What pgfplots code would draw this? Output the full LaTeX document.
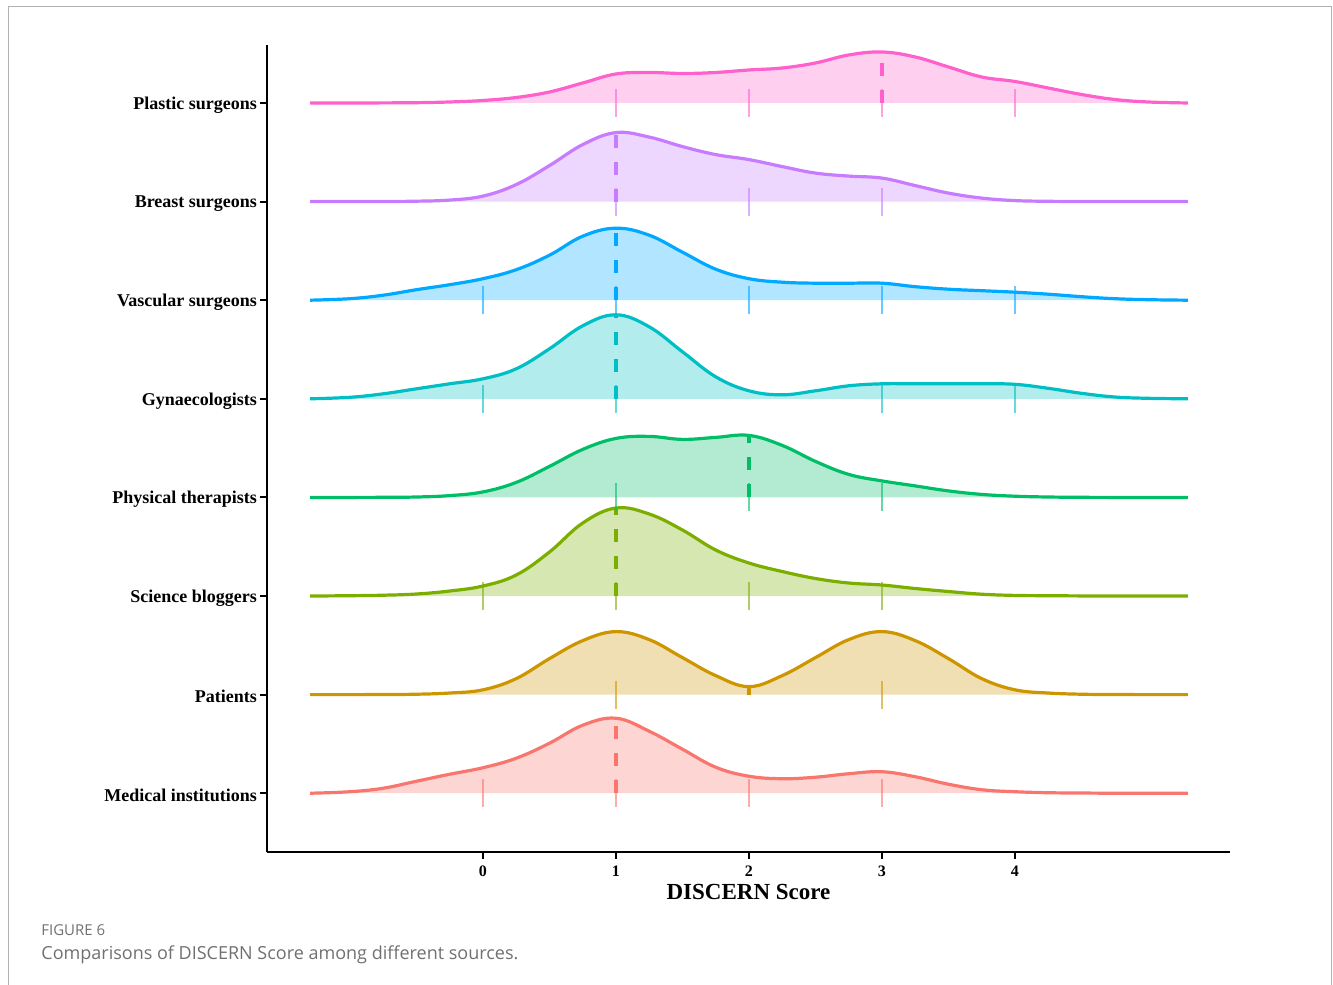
\documentclass[border=0pt]{standalone}
\usepackage{fontspec}
\setmainfont{Liberation Serif}
\newfontfamily\capfont{Open Sans}
\usepackage{pgfplots}
\usepackage{pgfplotstable}
\pgfplotsset{compat=1.18}

\definecolor{cpl}{HTML}{FF61CC}
\definecolor{cbr}{HTML}{C77CFF}
\definecolor{cva}{HTML}{00A9FF}
\definecolor{cgy}{HTML}{00BFC4}
\definecolor{cph}{HTML}{00BE67}
\definecolor{csc}{HTML}{7CAE00}
\definecolor{cpa}{HTML}{CD9600}
\definecolor{cme}{HTML}{F8766D}
\definecolor{capgray}{HTML}{707070}

% ridge heights (in px of the reference, 98.6 px = one row)
\pgfplotstableread{
x     pl    br    va    gy    ph    sc    pa    me
-1.3  0     0     0     0     0     0     0     0
-1.0  0     0     1.5   1.5   0     0.3   0     1.5
-0.75 0.1   0.1   5     5     0.1   0.8   0.1   5
-0.5  0.3   0.4   10.5  10    0.4   2     0.4   12
-0.25 1     1.5   15.5  15    1.8   5     1.6   19
0     2.5   5.5   21.5  20    5.5   10    4.8   25.5
0.25  5.5   17    30.5  30    15    21    16    35
0.5   11    36    45    50    31    44    36    50
0.75  20    57    64    73    48    73    54    68
1.0   29    69    72    84    59    88    63    75
1.25  30.5  64.5  65    72    61    82    55    62
1.5   29.5  55    48    47    58    66    37    44
1.75  30.5  47    31    22    60    46    19    26
2.0   33    42    21.5  8     62    33    8     17
2.25  35    35    18    4     52    24.5  19    14.5
2.5   40    28.5  17    8     36    17.5  37    16
2.75  48    25.5  17    13    23    13    55    19.5
3.0   51    23.5  17    15    16.5  11    63    21.5
3.25  46    16    13.5  15    11.5  7.5   54    16.5
3.5   36    8.5   11    15    6.5   4.5   36    9
3.75  26    3.5   9.5   15    3     1.8   16    3.5
4.0   21.5  1     8     14.5  1.2   0.6   4.8   1.5
4.25  15    0.3   6     10.5  0.4   0.3   1.6   0.5
4.5   8.5   0.1   3.5   5.5   0.1   0.1   0.4   0.2
4.75  3.5   0     1.5   1.8   0     0     0.1   0
5.0   1     0     0.5   0.5   0     0     0     0
5.3   0     0     0     0     0     0     0     0
}\dens

% #1 column, #2 row offset, #3 colour
\newcommand{\ridge}[3]{%
  \addplot[draw=none, fill=#3, fill opacity=0.3, smooth, tension=0.65]
    table[x=x, y expr=#2+\thisrow{#1}/98.6] {\dens};
  \addplot[#3, line width=1.6pt, smooth, tension=0.65]
    table[x=x, y expr=#2+\thisrow{#1}/98.6] {\dens};
}
\newcommand{\rug}[2]{%
  \addplot[only marks, mark=|, mark size=7pt, #1, opacity=0.6,
    mark options={line width=1pt}] coordinates {#2};
}
\newcommand{\median}[2]{%
  \addplot[#1, line width=1.6pt, dash pattern=on 6.5pt off 7pt] coordinates {#2};
}

\begin{document}
\begin{tikzpicture}
\useasboundingbox (0,0) rectangle (666.5pt,492.5pt);
\draw[gray!60, line width=0.5pt] (4pt,0) -- (4pt,489pt) -- (665.5pt,489pt) -- (665.5pt,0);
\node[anchor=west, inner sep=0, text=capgray, font=\capfont\fontsize{7.5}{8}\selectfont]
  at (20.5pt,27.5pt) {FIGURE 6};
\node[anchor=west, inner sep=0, text=capgray, font=\capfont\fontsize{9}{10}\selectfont]
  at (20.5pt,15pt) {Comparisons of DISCERN Score among different sources.};
\begin{axis}[
  at={(133.5pt,66.5pt)}, anchor=south west,
  scale only axis, width=481.5pt, height=403.5pt,
  xmin=-1.624, xmax=5.617, ymin=0.404, ymax=8.588,
  axis x line*=bottom, axis y line*=left,
  axis line style={line width=1.2pt},
  tick align=outside, major tick length=3.5pt,
  tick style={line width=1pt, black},
  xtick={0,1,2,3,4},
  ytick={1,2,3,4,5,6,7,8},
  yticklabels={Medical institutions, Patients, Science bloggers, Physical therapists,
    Gynaecologists, Vascular surgeons, Breast surgeons, Plastic surgeons},
  /pgf/number format/assume math mode=true,
  xticklabel style={font=\bfseries\fontsize{8}{9}\selectfont},
  yticklabel style={font=\bfseries\fontsize{9}{10}\selectfont, xshift=2pt, yshift=-1pt},
  xlabel={DISCERN Score},
  xlabel style={font=\bfseries\fontsize{11.5}{13}\selectfont,
    at={(axis description cs:0.5,0)}, anchor=center, yshift=-20pt},
]
% Plastic surgeons
\ridge{pl}{8}{cpl}
\rug{cpl}{(1,8) (2,8) (3,8) (4,8)}
\median{cpl}{(3,8) (3,8.517)}
% Breast surgeons
\ridge{br}{7}{cbr}
\rug{cbr}{(1,7) (2,7) (3,7)}
\median{cbr}{(1,7) (1,7.700)}
% Vascular surgeons
\ridge{va}{6}{cva}
\rug{cva}{(0,6) (1,6) (2,6) (3,6) (4,6)}
\median{cva}{(1,6) (1,6.730)}
% Gynaecologists
\ridge{gy}{5}{cgy}
\rug{cgy}{(0,5) (1,5) (3,5) (4,5)}
\median{cgy}{(1,5) (1,5.852)}
% Physical therapists
\ridge{ph}{4}{cph}
\rug{cph}{(1,4) (2,4) (3,4)}
\median{cph}{(2,4) (2,4.629)}
% Science bloggers
\ridge{sc}{3}{csc}
\rug{csc}{(0,3) (1,3) (2,3) (3,3)}
\median{csc}{(1,3) (1,3.892)}
% Patients
\ridge{pa}{2}{cpa}
\rug{cpa}{(1,2) (3,2)}
\median{cpa}{(2,2) (2,2.081)}
% Medical institutions
\ridge{me}{1}{cme}
\rug{cme}{(0,1) (1,1) (2,1) (3,1)}
\median{cme}{(1,1) (1,1.761)}
\end{axis}
\end{tikzpicture}
\end{document}
